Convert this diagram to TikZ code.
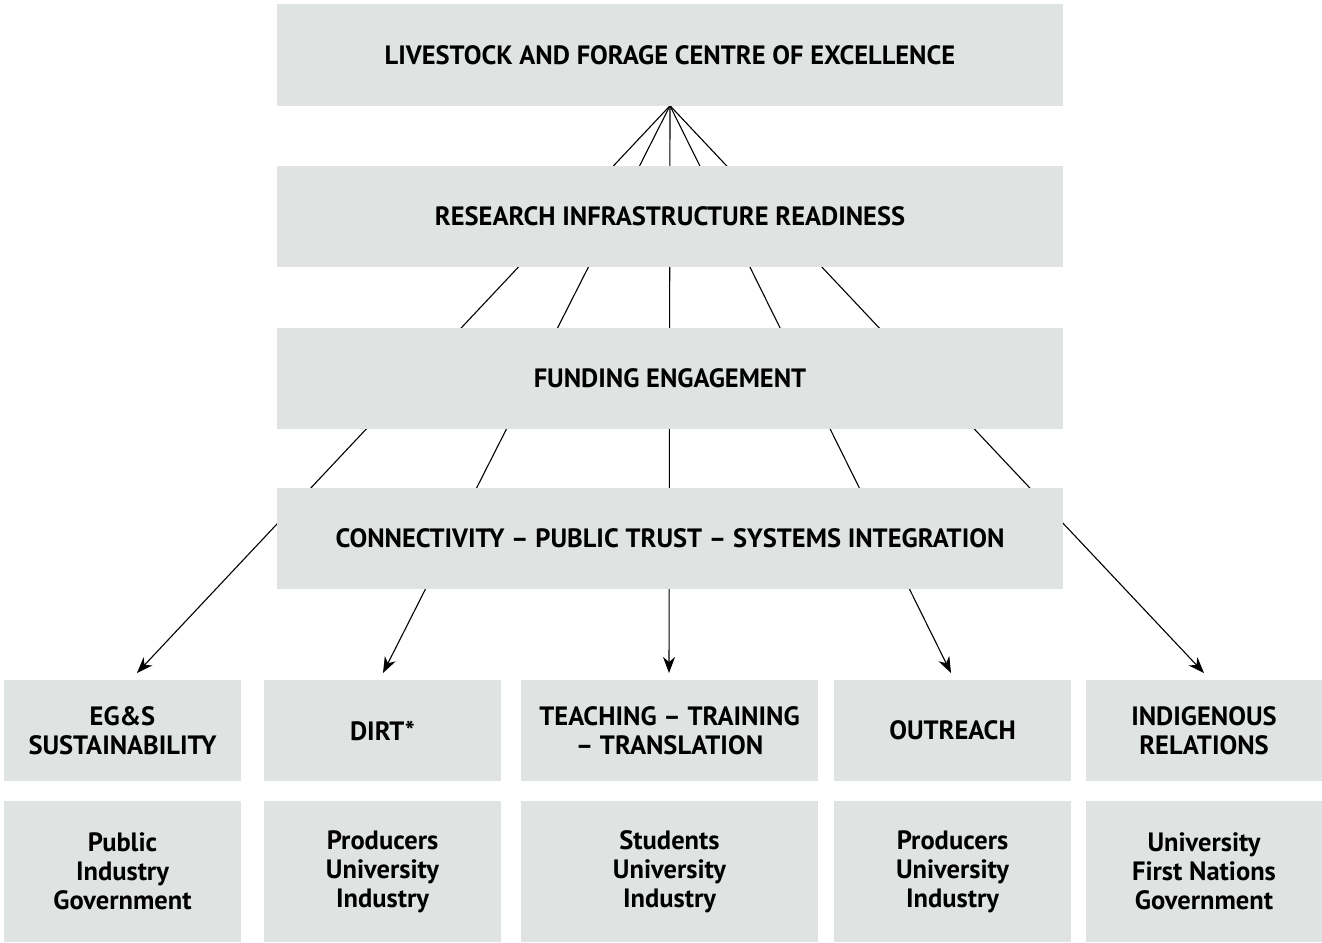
\documentclass[tikz,border=0pt]{standalone}
\usepackage{fontspec}
\setmainfont{PT Sans}
\usetikzlibrary{arrows.meta,backgrounds}
\definecolor{boxgrey}{HTML}{DFE3E1}
\tikzset{
	lvl/.style={fill=boxgrey, inner sep=0pt, minimum height=101pt, align=center,
		font=\fontsize{26.5}{29}\selectfont\bfseries},
	link/.style={-{Stealth[length=16pt,width=12pt,inset=5pt]}, line width=1.1pt},
}

\begin{document}
\begin{tikzpicture}[x=1pt,y=-1pt]
					\useasboundingbox (0,0) rectangle (1322,942);
					%LEVELS
					\node[lvl,minimum width=786pt] (lfce) at (670,55) {LIVESTOCK AND FORAGE CENTRE OF EXCELLENCE};
					\node[lvl,minimum width=786pt] (rir) at (670,216) {RESEARCH INFRASTRUCTURE READINESS};
					\node[lvl,minimum width=786pt] (fund) at (670,378) {FUNDING ENGAGEMENT};
					\node[lvl,minimum width=786pt] (cpt) at (670,538.5) {CONNECTIVITY – PUBLIC TRUST – SYSTEMS INTEGRATION};
					%PILLARS
					\node[lvl,minimum width=237pt] (egs) at (122.5,730.5) {EG\&S\\SUSTAINABILITY};
					\node[lvl,minimum width=237pt] (dirt) at (382.5,730.5) {DIRT*};
					\node[lvl,minimum width=297pt] (ttt) at (669.5,730.5) {TEACHING – TRAINING\\– TRANSLATION};
					\node[lvl,minimum width=237pt] (outr) at (952.5,730.5) {OUTREACH};
					\node[lvl,minimum width=236pt] (indig) at (1204,730.5) {INDIGENOUS\\RELATIONS};
					%PARTNERS
					\node[lvl,minimum width=237pt,minimum height=141pt] (egsp) at (122.5,871.5) {Public\\Industry\\Government};
					\node[lvl,minimum width=237pt,minimum height=141pt] (dirtp) at (382.5,871.5) {Producers\\University\\Industry};
					\node[lvl,minimum width=297pt,minimum height=141pt] (tttp) at (669.5,871.5) {Students\\University\\Industry};
					\node[lvl,minimum width=237pt,minimum height=141pt] (outrp) at (952.5,871.5) {Producers\\University\\Industry};
					\node[lvl,minimum width=236pt,minimum height=141pt] (indigp) at (1204,871.5) {University\\First Nations\\Government};
					%ARROWS
					\coordinate (apex) at (lfce.south);
					\coordinate (tip1) at (137,673);
					\coordinate (tip2) at (383,673);
					\coordinate (tip3) at (669,673);
					\coordinate (tip4) at (951,673);
					\coordinate (tip5) at (1204,673);
					\begin{scope}[on background layer]
					\foreach \t in {tip1,tip2,tip3,tip4,tip5}
						\draw[link] (apex) -- (\t);
					\end{scope}
	  \end{tikzpicture}
\end{document}
